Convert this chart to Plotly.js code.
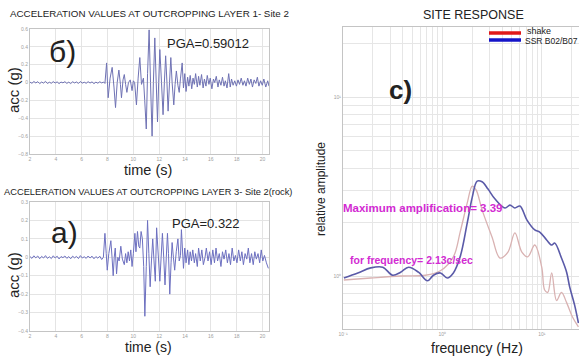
<!DOCTYPE html>
<html><head><meta charset="utf-8">
<script src="https://cdn.plot.ly/plotly-3.0.1.min.js"></script>
<style>html,body{margin:0;padding:0;background:#fff}#c{width:579px;height:360px}</style>
</head><body><div id="c"></div>
<script>
// Layer 1 (top) acceleration history
const t1 = [2.0,2.15,2.3,2.45,2.6,2.75,2.9,3.05,3.2,3.35,3.5,3.65,3.8,3.95,4.1,4.25,4.4,4.55,4.7,4.85,5.0,5.15,5.3,5.45,5.6,5.75,5.9,6.05,6.2,6.35,6.5,6.65,6.8,6.95,7.1,7.25,7.4,7.55,7.7,
 7.8,7.93,8.05,8.2,8.36,8.5,8.62,8.75,8.88,9.0,9.08,9.2,9.3,9.4,9.5,9.62,9.76,9.9,10.0,10.1,10.24,10.37,10.5,10.63,10.78,10.88,11.0,11.1,11.22,11.33,11.45,11.55,11.66,11.77,11.87,11.96,12.05,12.18,12.3,12.4,12.5,12.6,12.69,12.8,12.9,13.0,13.13,13.23,13.33,13.45,13.55,13.65,13.78,13.88,13.98,14.08,14.2,14.3,14.4,14.52,14.62,14.72,14.82,14.95,15.05,15.15,15.28,15.4,15.5,15.62,15.72,15.85,15.95,16.08,16.2,16.3,16.42,16.55,16.65,16.78,16.9,17.02,17.12,17.25,17.38,17.5,17.6,17.72,17.85,17.98,18.1,18.22,18.35,18.48,18.6,18.72,18.85,18.98,19.1,19.22,19.35,19.48,19.6,19.72,19.85,19.98,20.1,20.25,20.4,20.5];
const acc1 = [0.005,-0.008,0.012,-0.004,0.01,-0.012,0.006,-0.006,0.014,-0.01,0.004,-0.008,0.011,-0.005,0.008,-0.012,0.006,-0.003,0.01,-0.009,0.005,-0.011,0.009,-0.004,0.007,-0.01,0.012,-0.006,0.004,-0.008,0.01,-0.005,0.008,-0.012,0.005,-0.007,0.009,-0.004,0.006,
 -0.01,0.22,-0.17,0.05,0.17,-0.05,-0.28,0.0,0.14,-0.02,-0.17,0.03,0.09,-0.02,-0.11,0.0,0.03,-0.09,0.02,0.0,-0.25,0.05,0.28,-0.02,0.05,-0.2,-0.52,0.1,0.59,0.0,-0.6,0.0,0.5,0.0,-0.44,0.0,0.37,0.0,-0.36,0.0,0.3,0.0,-0.32,0.0,0.28,0.0,-0.25,-0.02,0.13,-0.03,-0.11,0.05,0.22,-0.06,0.1,-0.1,0.06,-0.04,0.08,-0.07,0.05,-0.02,0.1,-0.05,0.07,-0.03,0.09,-0.06,0.04,-0.04,0.08,-0.02,0.05,-0.07,0.04,0.0,0.07,-0.05,0.03,-0.03,0.06,-0.04,0.02,-0.06,0.1,-0.05,0.04,-0.03,0.02,-0.04,0.03,-0.02,0.05,-0.03,0.02,-0.04,0.05,-0.02,0.04,-0.05,0.03,-0.01,0.06,-0.04,0.02,-0.03,0.04,-0.05,0.02,-0.04];

// Layer 3 (bottom, rock) acceleration history
const t3 = [2.0,2.15,2.3,2.45,2.6,2.75,2.9,3.05,3.2,3.35,3.5,3.65,3.8,3.95,4.1,4.25,4.4,4.55,4.7,4.85,5.0,5.15,5.3,5.45,5.6,5.75,5.9,6.05,6.2,6.35,6.5,6.65,6.8,6.95,7.1,7.25,7.4,7.55,
 7.68,7.8,7.9,7.98,8.1,8.26,8.35,8.44,8.52,8.6,8.7,8.8,8.9,9.03,9.15,9.3,9.4,9.5,9.6,9.7,9.8,9.9,10.0,10.12,10.2,10.32,10.42,10.5,10.6,10.7,10.8,10.89,11.0,11.1,11.2,11.3,11.4,11.5,11.6,11.7,11.8,11.9,12.05,12.15,12.25,12.35,12.45,12.55,12.64,12.72,12.82,12.92,13.0,13.1,13.2,13.32,13.45,13.55,13.65,13.72,13.8,13.88,13.98,14.08,14.2,14.3,14.4,14.5,14.6,14.72,14.82,14.95,15.05,15.18,15.3,15.42,15.55,15.65,15.78,15.9,16.02,16.15,16.28,16.4,16.52,16.65,16.78,16.9,17.02,17.15,17.28,17.4,17.52,17.65,17.78,17.9,18.02,18.15,18.28,18.4,18.52,18.65,18.78,18.9,19.02,19.15,19.28,19.4,19.52,19.65,19.78,19.9,20.02,20.15,20.3,20.45];
const acc3 = [0.004,-0.006,0.008,-0.003,0.007,-0.008,0.005,-0.004,0.009,-0.006,0.003,-0.007,0.008,-0.004,0.006,-0.009,0.004,-0.002,0.007,-0.006,0.004,-0.008,0.006,-0.003,0.005,-0.007,0.009,-0.004,0.003,-0.006,0.007,-0.004,0.006,-0.008,0.004,-0.005,0.006,-0.012,
 0.0,0.13,0.02,-0.07,0.02,0.09,0.0,-0.1,0.0,0.05,-0.09,0.0,-0.02,0.06,-0.01,-0.04,0.02,-0.03,0.03,-0.02,0.04,-0.05,0.02,0.13,0.03,0.14,0.06,0.05,0.14,0.1,-0.05,-0.32,-0.05,0.2,0.02,-0.16,-0.02,0.1,-0.02,-0.13,0.16,0.02,-0.13,0.0,0.13,0.0,-0.15,0.0,0.13,0.02,-0.2,-0.03,0.08,0.0,-0.07,0.03,0.1,-0.02,0.01,0.15,-0.01,-0.06,0.05,-0.03,0.04,-0.04,0.03,-0.02,0.04,-0.03,0.02,-0.05,0.05,-0.02,0.04,-0.04,0.0,0.05,-0.02,0.03,-0.04,0.04,-0.03,0.05,-0.02,0.02,-0.05,0.03,-0.01,0.04,-0.03,0.02,-0.04,0.05,-0.02,0.01,-0.03,0.04,-0.02,0.03,-0.04,0.02,-0.01,0.05,-0.03,0.02,-0.04,0.03,-0.01,0.02,-0.03,0.04,-0.02,0.01,-0.03,-0.06];

// Site response spectra
const fSSR = [0.102,0.141,0.19,0.251,0.316,0.38,0.457,0.575,0.708,0.813,0.955,1.12,1.29,1.51,1.78,2.0,2.24,2.51,2.88,3.39,4.27,4.79,5.37,6.03,7.08,8.51,9.55,11.2,12.6,13.5,15.8,17.8,19.1,21.4,23.4];
const aSSR = [0.975,1.04,1.11,1.12,1.01,1.05,1.12,1.05,0.94,1.01,1.04,0.975,1.04,1.28,1.98,2.76,3.39,3.36,3.06,2.69,2.40,2.49,2.40,2.46,2.06,1.81,1.76,1.59,1.49,1.53,1.26,1.05,0.87,0.69,0.546];
const fShake = [0.102,0.19,0.38,0.676,0.955,1.29,1.51,1.78,2.0,2.19,2.51,3.16,3.80,4.57,5.37,6.31,7.24,8.51,10.0,10.7,11.5,12.6,14.1,15.8,17.8,20.4,23.4];
const aShake = [0.95,0.975,1.0,1.01,1.07,1.28,1.76,2.56,3.18,3.02,2.34,1.65,1.26,1.36,1.74,1.36,1.28,1.49,1.12,0.835,0.81,1.04,0.73,0.81,0.71,0.59,0.52];

const decadeVals = [0.1, 1, 10];
const decadeText = ['10⁻¹', '10⁰', '10¹'];
const legendNames = ['shake','SSR B02/B07'];

const traces = [
 {x:t1, y:acc1, xaxis:'x', yaxis:'y', type:'scatter', mode:'lines', line:{color:'#6f72b4', width:1}, hoverinfo:'skip'},
 {x:t3, y:acc3, xaxis:'x2', yaxis:'y2', type:'scatter', mode:'lines', line:{color:'#6d70c0', width:1}, hoverinfo:'skip'},
 {x:fShake, y:aShake, xaxis:'x3', yaxis:'y3', type:'scatter', mode:'lines', line:{color:'#d9b2b2', width:1.3, shape:'spline'}, name:legendNames[0]},
 {x:fSSR, y:aSSR, xaxis:'x3', yaxis:'y3', type:'scatter', mode:'lines', line:{color:'#5a5aa8', width:1.6, shape:'spline'}, name:legendNames[1]}
];

const W=579, H=360;
const px = v => v/W, py = v => 1 - v/H;
const base = {showgrid:true, gridcolor:'#e4e4e4', gridwidth:1, zeroline:false, showline:true, linecolor:'#c4c4c4', linewidth:1, mirror:true, ticks:'', tickfont:{size:5, color:'#a0a0a0', family:'Liberation Sans, Arial'}};
const logAxis = {type:'log', tickmode:'array', tickvals:decadeVals, ticktext:decadeText, minor:{dtick:'D1', showgrid:true, gridcolor:'#e6e6e6', ticks:''}};

const layout = {
 width:W, height:H, margin:{l:0,r:0,t:0,b:0}, showlegend:false,
 paper_bgcolor:'#fff', plot_bgcolor:'#fff',
 font:{family:'Liberation Sans, Arial, sans-serif', color:'#222'},
 xaxis: Object.assign({}, base, {domain:[px(30),px(269)], anchor:'y', range:[2,20.5], tick0:0, dtick:2}),
 yaxis: Object.assign({}, base, {domain:[py(154),py(29)], anchor:'x', range:[-0.8,0.6], tick0:0, dtick:0.2}),
 xaxis2: Object.assign({}, base, {domain:[px(30),px(269)], anchor:'y2', range:[2,20.5], tick0:0, dtick:2}),
 yaxis2: Object.assign({}, base, {domain:[py(331),py(202)], anchor:'x2', range:[-0.4,0.3], tick0:0, dtick:0.1}),
 xaxis3: Object.assign({}, base, logAxis, {domain:[px(343),1], anchor:'y3', range:[-1,1.375]}),
 yaxis3: Object.assign({}, base, logAxis, {domain:[py(329),py(27)], anchor:'x3', range:[-0.296,1.391]}),
 shapes:[
  {type:'line', xref:'paper', yref:'paper', x0:px(489), x1:px(521), y0:py(33), y1:py(33), line:{color:'#e01818', width:3.5}},
  {type:'line', xref:'paper', yref:'paper', x0:px(489), x1:px(521), y0:py(40), y1:py(40), line:{color:'#1414c8', width:3.5}}
 ],
 annotations:[]
};
function ann(text, x, y, size, opts){
  layout.annotations.push(Object.assign({text:text, xref:'paper', yref:'paper', x:px(x), y:py(y), xanchor:'center', yanchor:'middle', showarrow:false, font:{size:size, color:'#222'}}, opts||{}));
}
ann('ACCELERATION VALUES AT OUTCROPPING LAYER 1- Site 2', 149, 14, 9.8);
ann('ACCELERATION VALUES AT OUTCROPPING LAYER 3- Site 2(rock)', 148, 192, 9.3);
ann('SITE RESPONSE', 473, 15, 12.5);
ann('time (s)', 148, 170, 14.5);
ann('time (s)', 148, 347, 14);
ann('acc (g)', 13, 90, 15, {textangle:-90});
ann('acc (g)', 13, 275, 15, {textangle:-90});
ann('relative amplitude', 321, 189, 12, {textangle:-90});
ann('frequency (Hz)', 477, 348, 14);
ann('б)', 62, 52, 30);
ann('а)', 64, 232, 30);
ann('<b>c)</b>', 400, 90, 26);
ann('PGA=0.59012', 208, 43, 13);
ann('PGA=0.322', 206, 223, 13);
ann('<b>Maximum amplification= 3.39</b>', 422, 208, 11.5, {font:{size:11.5, color:'#d22ad2'}});
ann('<b>for frequency= 2.13c/sec</b>', 411, 260, 10.5, {font:{size:10.5, color:'#d22ad2'}});
ann(legendNames[0], 525, 31, 9, {xanchor:'left'});
ann(legendNames[1], 523, 41, 8.5, {xanchor:'left'});

Plotly.newPlot('c', traces, layout, {staticPlot:true, displayModeBar:false});
</script></body></html>
